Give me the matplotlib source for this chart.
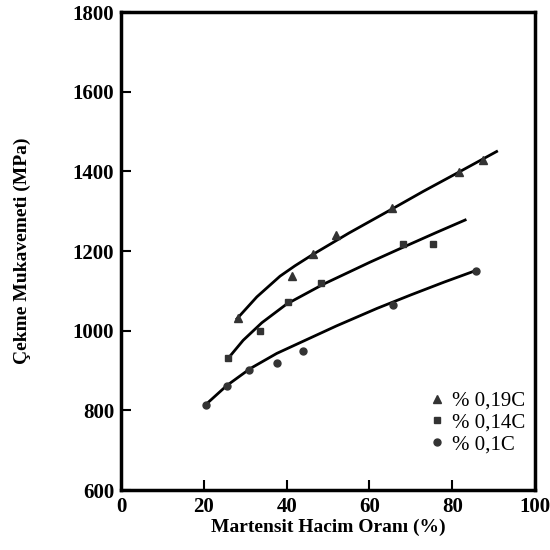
import matplotlib
matplotlib.use('Agg')
import matplotlib.pyplot as plt

# measured points
x_019 = [28.3, 41.4, 46.3, 51.9, 65.4, 81.7, 87.4]
y_019 = [1031, 1137, 1192, 1240, 1307, 1399, 1428]
x_014 = [25.9, 33.6, 40.4, 48.3, 68.0, 75.4]
y_014 = [931, 999, 1071, 1119, 1217, 1219]
x_01 = [20.5, 25.7, 30.9, 37.6, 44.0, 65.6, 85.7]
y_01 = [813, 861, 901, 920, 949, 1064, 1150]

# trend curves
cx_019 = [28.0, 32.8, 38.4, 42.0, 46.4, 55.0, 65.0, 73.0, 81.9, 90.7]
cy_019 = [1030, 1085, 1137, 1163, 1192, 1245, 1303, 1350, 1400, 1450]
cx_014 = [25.9, 29.5, 34.0, 40.0, 48.9, 60.1, 68.2, 76.0, 83.1]
cy_014 = [931, 976, 1020, 1067, 1117, 1172, 1210, 1246, 1278]
cx_01 = [20.3, 25.5, 31.2, 37.6, 44.9, 52.0, 61.8, 70.0, 78.0, 85.9]
cy_01 = [813, 862, 905, 943, 978, 1012, 1056, 1090, 1122, 1152]

labels = ['% 0,19C', '% 0,14C', '% 0,1C']

plt.rcParams['font.family'] = ['Liberation Serif', 'DejaVu Serif']

fig = plt.figure(figsize=(5.5, 5.5), dpi=100)
ax = fig.add_axes([0.22, 0.109, 0.753, 0.869])

for cx, cy in [(cx_019, cy_019), (cx_014, cy_014), (cx_01, cy_01)]:
    ax.plot(cx, cy, color='black', lw=2, solid_joinstyle='round')
ax.plot(x_019, y_019, '^', color='#333333', ms=6, ls='none', label=labels[0])
ax.plot(x_014, y_014, 's', color='#333333', ms=5, ls='none', label=labels[1])
ax.plot(x_01, y_01, 'o', color='#333333', ms=5, ls='none', label=labels[2])

ax.set_xlim(0, 100)
ax.set_ylim(600, 1800)
ax.set_xticks([0, 20, 40, 60, 80, 100])
ax.set_yticks([600, 800, 1000, 1200, 1400, 1600, 1800])
ax.tick_params(direction='in', length=7, width=1.5, labelsize=15, pad=5)
for lab in ax.get_xticklabels() + ax.get_yticklabels():
    lab.set_fontweight('bold')
for s in ax.spines.values():
    s.set_linewidth(2.5)

ax.set_xlabel('Martensit Hacim Oranı (%)', fontsize=14, fontweight='bold', labelpad=1)
ax.set_ylabel('Çekme Mukavemeti (MPa)', fontsize=14, fontweight='bold', labelpad=30)

ax.legend(loc='lower right', bbox_to_anchor=(0.975, 0.075), frameon=False, fontsize=15,
          handlelength=0.6, handletextpad=0.4, labelspacing=0.1, borderaxespad=0,
          borderpad=0)

fig.savefig('out.png', dpi=100)
